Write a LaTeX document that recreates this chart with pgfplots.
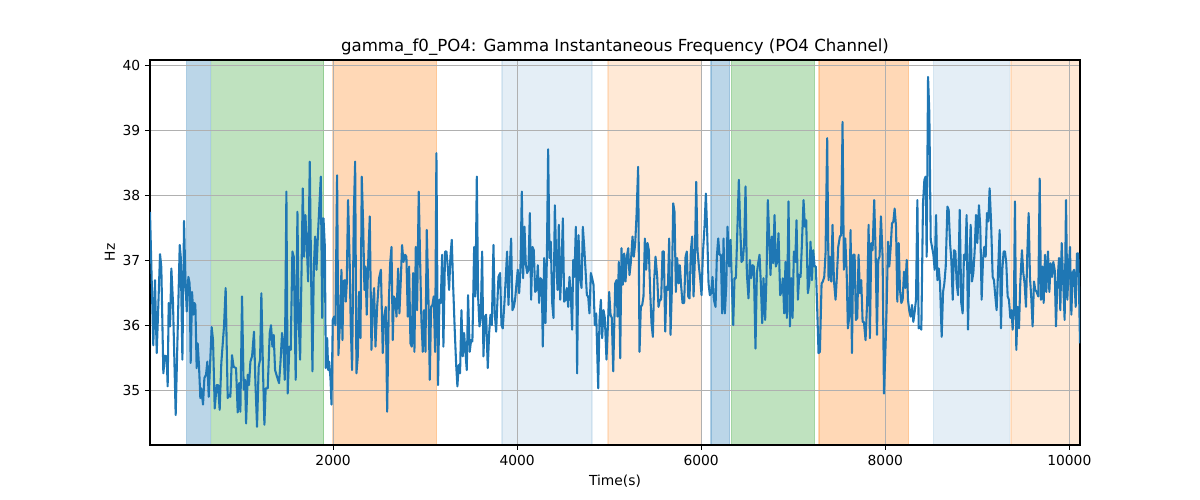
\documentclass[border=0pt]{standalone}
\usepackage{fontspec}
\setmainfont{DejaVu Sans}
\usepackage{pgfplots}
\usepackage{pgfplotstable}
\pgfplotsset{compat=1.18}
\definecolor{tabblue}{RGB}{31,119,180}
\definecolor{taborange}{RGB}{255,127,14}
\definecolor{tabgreen}{RGB}{44,160,44}
\definecolor{gridgray}{RGB}{176,176,176}
\pgfplotstableread{
t v
11 37.75
47 35.70
65 36.70
84 35.58
120 37.10
134 36.90
156 35.27
174 35.54
192 35.53
203 35.07
214 36.35
229 35.99
243 36.88
261 36.35
290 34.63
334 37.24
345 37.06
363 35.48
381 37.61
395 36.75
410 36.22
428 36.75
442 36.65
453 35.43
468 36.52
482 36.17
493 36.35
504 36.32
518 35.35
529 35.73
544 35.37
558 34.89
569 35.04
587 34.79
602 35.20
620 35.25
634 35.45
649 34.91
681 35.98
696 35.78
714 34.73
736 35.09
750 35.09
768 34.71
786 35.43
815 35.99
833 36.58
855 34.89
870 34.94
884 34.91
902 35.55
920 35.37
946 35.35
964 34.67
979 35.12
993 34.68
1011 36.45
1029 35.02
1044 35.17
1055 34.50
1073 35.25
1087 35.09
1102 35.45
1120 35.53
1141 35.91
1156 35.14
1174 34.45
1192 35.37
1207 35.48
1221 36.50
1239 35.30
1254 34.48
1268 35.04
1290 35.04
1312 35.89
1326 36.01
1341 35.68
1355 35.86
1370 35.32
1391 35.22
1413 35.12
1428 35.42
1446 35.89
1460 35.73
1475 35.17
1493 38.06
1507 34.96
1525 35.68
1540 35.63
1558 37.14
1573 37.06
1594 35.17
1613 37.75
1627 36.06
1642 35.48
1656 36.70
1671 38.11
1685 37.06
1700 37.70
1714 37.27
1729 36.68
1747 38.52
1762 36.75
1776 35.30
1791 36.88
1805 37.37
1820 36.86
1834 37.34
1849 37.78
1867 38.29
1882 36.12
1896 37.65
1911 37.21
1921 35.35
1936 35.81
1947 35.32
1958 35.45
1972 35.19
1983 34.79
1997 36.09
2011 36.14
2026 36.01
2044 38.31
2058 35.55
2077 36.09
2091 36.86
2102 35.78
2113 36.68
2127 36.70
2138 36.37
2149 36.65
2163 37.93
2181 36.95
2192 36.01
2207 35.32
2225 37.68
2240 38.52
2254 35.27
2269 35.53
2283 36.52
2298 35.81
2312 38.29
2327 37.55
2341 36.55
2352 36.91
2366 36.17
2385 37.14
2399 37.68
2417 35.63
2432 36.32
2446 36.58
2461 35.68
2479 36.29
2500 36.73
2520 36.86
2540 35.58
2555 36.14
2573 36.29
2588 34.68
2606 36.35
2620 36.95
2635 37.21
2649 35.78
2660 36.45
2678 36.40
2689 36.14
2707 36.88
2721 36.19
2736 36.70
2750 37.24
2765 36.98
2783 37.09
2797 37.06
2812 36.14
2826 36.91
2841 35.73
2855 35.68
2870 36.81
2884 35.60
2899 37.21
2913 36.24
2931 38.06
2946 37.01
2960 36.09
2975 35.60
2989 36.24
3004 35.60
3018 37.47
3036 36.45
3051 35.17
3065 36.29
3080 36.32
3094 36.45
3109 35.60
3123 38.65
3141 35.09
3156 36.40
3170 36.35
3185 37.09
3199 35.68
3217 37.14
3232 37.14
3246 36.91
3261 36.55
3275 37.06
3290 37.32
3304 36.65
3322 35.94
3337 35.42
3351 35.07
3366 35.40
3380 35.27
3395 36.24
3409 35.53
3424 35.89
3438 35.60
3453 35.32
3467 36.47
3485 35.60
3500 35.78
3514 35.76
3533 37.21
3547 36.45
3562 38.29
3576 36.45
3591 35.99
3605 36.14
3620 37.14
3634 35.53
3649 36.14
3663 36.17
3681 35.35
3696 35.89
3710 36.17
3725 36.01
3743 37.24
3757 36.19
3772 35.91
3797 36.75
3815 36.81
3830 36.01
3844 35.96
3862 36.35
3877 36.75
3891 37.14
3906 36.32
3920 36.91
3935 37.34
3949 36.24
3964 36.29
3978 36.40
3993 36.65
4007 36.86
4022 36.50
4036 36.86
4051 38.06
4065 36.73
4080 37.52
4094 36.95
4109 36.81
4123 36.86
4138 37.73
4152 36.40
4167 37.21
4181 37.16
4196 36.52
4210 36.55
4225 36.93
4239 36.35
4254 36.73
4268 36.70
4279 35.68
4294 37.04
4308 36.04
4323 37.01
4337 38.71
4352 37.04
4366 37.29
4381 36.35
4395 36.12
4410 37.85
4424 37.06
4439 36.55
4453 37.55
4468 36.40
4482 36.91
4497 37.65
4511 36.37
4526 36.40
4540 36.58
4555 36.29
4569 36.75
4584 36.45
4598 35.94
4609 37.01
4623 36.75
4638 37.52
4652 35.27
4667 37.39
4685 36.73
4700 36.58
4714 37.52
4729 37.21
4743 36.86
4758 36.47
4772 36.45
4786 36.19
4801 36.81
4815 36.73
4830 36.63
4844 36.01
4859 36.19
4881 35.04
4895 36.09
4910 36.40
4924 35.81
4939 36.24
4953 36.12
4971 35.48
4986 35.99
5000 36.52
5015 36.17
5029 36.12
5044 35.30
5066 36.65
5080 36.70
5091 36.14
5105 36.98
5120 35.50
5134 37.19
5149 36.63
5163 37.11
5178 36.68
5192 37.06
5207 37.19
5221 36.78
5236 36.98
5254 37.37
5268 37.06
5283 37.27
5297 37.68
5315 38.44
5330 35.60
5344 36.29
5359 36.32
5373 36.45
5388 37.34
5402 36.86
5417 37.27
5431 37.16
5446 36.52
5460 36.04
5475 35.83
5489 36.70
5504 37.06
5522 36.75
5536 36.29
5551 36.40
5565 36.40
5580 37.14
5594 37.14
5609 35.91
5623 36.60
5638 36.55
5652 37.34
5667 35.86
5681 36.55
5696 37.88
5710 37.75
5725 36.52
5739 37.04
5754 36.65
5768 36.93
5783 36.60
5797 36.35
5815 36.35
5830 37.06
5844 37.14
5859 36.45
5873 36.42
5888 37.16
5902 37.37
5917 36.45
5931 37.01
5946 38.21
5960 37.16
5975 36.91
5989 36.73
6004 36.47
6018 37.09
6036 37.52
6051 38.03
6065 37.44
6080 36.65
6094 36.47
6109 36.50
6123 36.75
6138 36.40
6156 36.29
6170 37.06
6185 37.34
6199 37.09
6214 37.09
6228 36.19
6243 37.34
6257 36.19
6272 36.60
6286 37.52
6304 36.91
6319 37.32
6333 36.65
6348 36.01
6362 36.73
6377 36.73
6391 37.37
6409 38.24
6424 37.52
6438 36.98
6453 37.01
6467 37.27
6482 38.14
6496 36.81
6514 36.42
6529 37.01
6543 36.73
6558 36.93
6572 36.91
6590 35.65
6605 36.81
6619 36.96
6634 37.09
6648 36.65
6663 36.04
6677 36.73
6695 36.09
6710 36.78
6724 37.93
6739 37.37
6753 36.78
6768 37.37
6782 36.96
6797 37.70
6811 36.91
6826 36.98
6840 37.42
6858 36.47
6873 36.52
6887 36.73
6902 36.19
6916 36.98
6931 36.12
6949 37.91
6964 35.99
6978 36.73
6993 36.12
7007 37.14
7022 36.98
7036 37.62
7051 36.40
7065 36.78
7080 36.75
7094 37.24
7112 37.93
7127 37.52
7141 37.62
7159 36.50
7174 36.65
7188 37.29
7203 36.70
7217 37.16
7232 36.91
7246 36.91
7261 36.24
7275 35.58
7290 35.60
7308 36.65
7322 36.68
7337 36.75
7351 37.11
7369 38.88
7384 36.70
7398 37.06
7413 36.68
7427 37.55
7442 36.70
7460 36.40
7474 36.75
7489 37.21
7507 37.37
7521 37.39
7536 39.13
7550 36.86
7565 37.34
7580 36.86
7594 35.96
7609 36.14
7623 37.47
7638 35.58
7652 37.09
7667 37.09
7681 36.09
7696 36.12
7710 37.09
7725 36.50
7739 36.70
7754 36.06
7768 36.06
7786 35.78
7804 36.40
7819 37.55
7833 35.81
7848 37.27
7862 37.16
7880 37.93
7895 37.14
7910 35.86
7924 37.01
7938 37.06
7953 37.68
7971 37.06
7986 34.96
8004 35.73
8015 36.29
8030 37.29
8044 36.91
8059 37.21
8073 37.57
8088 37.60
8102 37.80
8117 37.52
8131 36.37
8146 37.27
8160 36.55
8175 36.35
8189 36.40
8204 36.83
8218 36.58
8233 37.01
8247 36.40
8262 36.22
8276 36.14
8291 36.32
8305 36.06
8320 36.22
8334 36.40
8349 37.93
8363 35.96
8378 35.99
8392 35.94
8410 37.88
8425 38.24
8439 38.29
8450 37.06
8465 39.82
8479 39.26
8494 37.32
8508 37.21
8523 37.09
8537 36.86
8552 37.70
8566 36.70
8581 36.88
8595 36.65
8613 35.83
8628 36.52
8642 36.65
8657 36.91
8675 37.83
8689 37.78
8704 37.27
8718 37.01
8733 36.40
8747 37.16
8762 37.14
8776 36.65
8791 36.47
8809 37.78
8826 36.35
8841 36.19
8855 37.09
8870 37.01
8884 37.70
8899 35.94
8913 36.86
8928 37.55
8942 36.68
8957 36.81
8971 37.14
8986 37.70
9000 37.27
9018 37.85
9033 37.50
9047 36.40
9062 37.01
9076 37.21
9091 37.06
9105 37.73
9120 37.60
9134 38.11
9149 37.62
9167 36.75
9181 36.70
9196 36.45
9210 36.24
9225 36.81
9243 37.47
9257 35.96
9272 36.86
9286 37.14
9301 37.14
9315 36.96
9330 36.45
9344 36.40
9359 36.12
9373 36.24
9384 35.94
9398 36.27
9409 37.91
9424 35.63
9438 36.29
9453 35.96
9467 36.65
9485 37.16
9500 36.81
9514 36.65
9529 36.29
9543 37.09
9558 37.73
9572 36.75
9587 36.42
9601 35.99
9616 36.68
9630 36.55
9645 36.52
9663 36.45
9678 38.26
9692 36.40
9707 36.91
9721 36.35
9736 37.09
9750 36.52
9768 37.14
9783 36.52
9797 36.96
9812 36.75
9826 36.98
9841 36.86
9855 35.99
9870 36.65
9888 37.04
9902 36.24
9917 37.27
9931 36.75
9949 36.09
9964 37.93
9978 36.40
9993 36.88
10007 37.21
10022 36.17
10036 36.81
10051 36.86
10069 36.29
10083 37.11
10098 37.11
10116 35.73
}\gammadata
\pgfplotsset{
  base/.style={
    at={(0,0)}, anchor=south west, scale only axis,
    width=672.11pt, height=278.24pt,
    xmin=11, xmax=10116, ymin=34.17, ymax=40.08,
  },
  span/.style={line width=1pt, fill opacity=#1, draw opacity=#1},
}
\begin{document}
\begin{tikzpicture}[x=1pt,y=1pt]
\path[use as bounding box] (-108.405,-39.75) rectangle (758.835,321.6);
\begin{axis}[base, axis lines=none, ticks=none]
\addplot[span=0.3, fill=tabblue, draw=tabblue] coordinates {(410,34.17)(667,34.17)(667,40.08)(410,40.08)(410,34.17)};
\addplot[span=0.3, fill=tabblue, draw=tabblue] coordinates {(6105,34.17)(6310,34.17)(6310,40.08)(6105,40.08)(6105,34.17)};
\addplot[span=0.3, fill=tabgreen, draw=tabgreen] coordinates {(682,34.17)(1899,34.17)(1899,40.08)(682,40.08)(682,34.17)};
\addplot[span=0.3, fill=tabgreen, draw=tabgreen] coordinates {(6328,34.17)(7232,34.17)(7232,40.08)(6328,40.08)(6328,34.17)};
\addplot[span=0.3, fill=taborange, draw=taborange] coordinates {(2000,34.17)(3124,34.17)(3124,40.08)(2000,40.08)(2000,34.17)};
\addplot[span=0.3, fill=taborange, draw=taborange] coordinates {(7280,34.17)(8254,34.17)(8254,40.08)(7280,40.08)(7280,34.17)};
\addplot[span=0.12, fill=tabblue, draw=tabblue] coordinates {(3834,34.17)(4812,34.17)(4812,40.08)(3834,40.08)(3834,34.17)};
\addplot[span=0.12, fill=tabblue, draw=tabblue] coordinates {(8522,34.17)(9348,34.17)(9348,40.08)(8522,40.08)(8522,34.17)};
\addplot[span=0.17, fill=taborange, draw=taborange] coordinates {(4986,34.17)(6004,34.17)(6004,40.08)(4986,40.08)(4986,34.17)};
\addplot[span=0.17, fill=taborange, draw=taborange] coordinates {(9366,34.17)(10116,34.17)(10116,40.08)(9366,40.08)(9366,34.17)};
\end{axis}
\begin{axis}[
  base,
  xtick={2000,4000,6000,8000,10000},
  ytick={35,36,37,38,39,40},
  xtick pos=lower, ytick pos=left,
  grid=major, grid style={gridgray, line width=0.8pt},
  tick align=outside, major tick length=3.5pt,
  tick style={black, line width=0.8pt},
  axis line style={line width=0.8pt},
  ticklabel style={font=\fontsize{10}{12}\selectfont},
  /pgf/number format/assume math mode=true,
  /pgf/number format/set thousands separator={},
  scaled x ticks=false,
  xlabel={Time(s)}, ylabel={Hz},
  label style={font=\fontsize{10}{12}\selectfont},
  xlabel style={at={([yshift=-26pt]rel axis cs:0.5,0)}, anchor=center},
  ylabel style={at={([xshift=-29pt]rel axis cs:0,0.5)}, anchor=center},
  title={gamma\_f0\_PO4: Gamma Instantaneous Frequency (PO4 Channel)},
  title style={font=\fontsize{12}{14}\selectfont, at={(rel axis cs:0.5,1)}, anchor=base},
]
\addplot[tabblue, line width=1.5pt, line join=round, mark=none] table[x=t, y=v] {\gammadata};
\end{axis}
\end{tikzpicture}
\end{document}
